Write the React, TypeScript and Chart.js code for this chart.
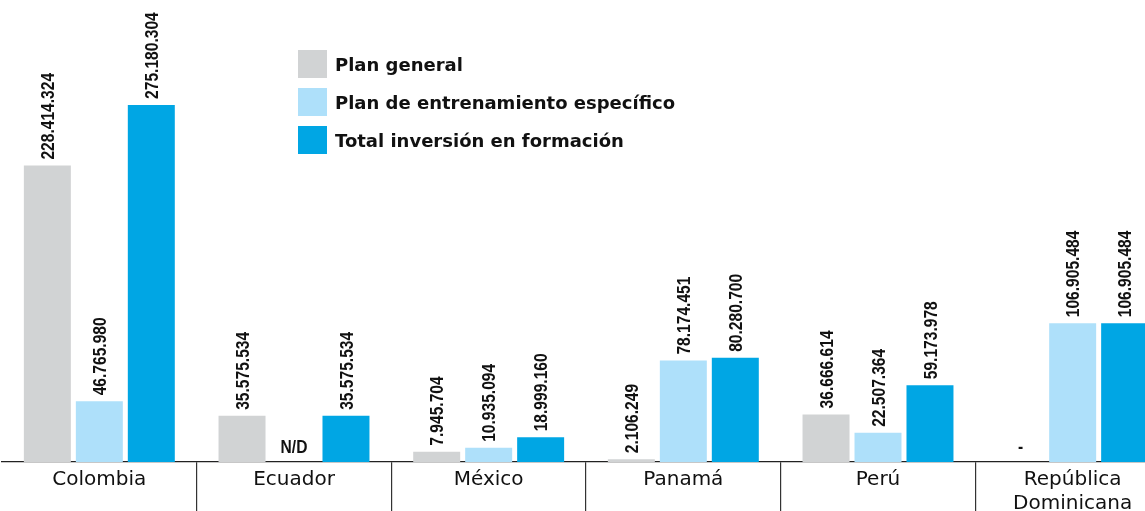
import { useEffect, useRef } from "react";
import { Chart, registerables } from "chart.js";
Chart.register(...registerables);

const categories: (string | string[])[] = ["Colombia", "Ecuador", "México", "Panamá", "Perú", ["República", "Dominicana"]];
const seriesNames = ["Plan general", "Plan de entrenamiento específico", "Total inversión en formación"];
const planGeneral = [228414324, 35575534, 7945704, 2106249, 36666614, null];
const planEspecifico = [46765980, null, 10935094, 78174451, 22507364, 106905484];
const totalInversion = [275180304, 35575534, 18999160, 80280700, 59173978, 106905484];
const missingGeneral = ["", "", "", "", "", "-"];
const missingEspecifico = ["", "N/D", "", "", "", ""];
const missingTotal = ["", "", "", "", "", ""];
const colors = ["#d1d3d4", "#aee0fa", "#00a6e4"];

const missingLabels = [missingGeneral, missingEspecifico, missingTotal];
const LABEL_FONT = 'bold 19px "Liberation Sans", Arial, sans-serif';
const CONDENSE = 0.82;

const fmt = (v: number) => String(v).replace(/\B(?=(\d{3})+(?!\d))/g, ".");

const valueLabels = {
  id: "valueLabels",
  afterDatasetsDraw(chart: any) {
    const ctx = chart.ctx;
    const base = chart.scales.y.getPixelForValue(0);
    chart.data.datasets.forEach((ds: any, di: number) => {
      const meta = chart.getDatasetMeta(di);
      meta.data.forEach((el: any, i: number) => {
        const v = ds.data[i];
        ctx.save();
        ctx.fillStyle = "#111";
        ctx.font = LABEL_FONT;
        if (v == null) {
          const txt = missingLabels[di][i];
          ctx.translate(el.x, base - 9);
          ctx.scale(CONDENSE, 1);
          ctx.textAlign = "center";
          ctx.textBaseline = "alphabetic";
          ctx.fillText(txt, 0, 0);
        } else {
          ctx.translate(el.x, el.y - 6);
          ctx.rotate(-Math.PI / 2);
          ctx.scale(CONDENSE, 1);
          ctx.textAlign = "left";
          ctx.textBaseline = "alphabetic";
          ctx.fillText(fmt(v), 0, 6.8);
        }
        ctx.restore();
      });
    });
  },
};

export default function App() {
  const ref = useRef<HTMLCanvasElement>(null);
  useEffect(() => {
    if (!ref.current) return;
    const chart = new Chart(ref.current, {
      type: "bar",
      data: {
        labels: categories,
        datasets: [planGeneral, planEspecifico, totalInversion].map((d, k) => ({
          label: seriesNames[k],
          data: d,
          backgroundColor: colors[k],
          borderWidth: 0,
          barPercentage: 0.904,
          categoryPercentage: 0.801,
        })),
      },
      options: {
        animation: false,
        responsive: false,
        devicePixelRatio: 1,
        layout: { padding: { left: 2, right: 0, top: 0, bottom: 0 } },
        plugins: { legend: { display: false }, tooltip: { enabled: false } },
        scales: {
          x: {
            z: 1,
            afterFit: (s: any) => {
              s.height = 54;
            },
            grid: {
              display: true,
              drawOnChartArea: false,
              drawTicks: true,
              tickLength: 60,
              offset: true,
              lineWidth: 1.2,
              color: (c: any) => (c.index === 0 ? "rgba(0,0,0,0)" : "#333"),
            },
            border: { display: true, color: "#222", width: 1.3 },
            ticks: {
              padding: -54,
              autoSkip: false,
              maxRotation: 0,
              color: "#111",
              font: { family: "DejaVu Sans", size: 20, lineHeight: 1.2 },
            },
          },
          y: { display: false, min: 0, max: 356000000 },
        },
      },
      plugins: [valueLabels],
    });
    return () => chart.destroy();
  }, []);

  return (
    <div style={{ position: "absolute", left: 0, top: 0, width: 1145, height: 511, overflow: "hidden", background: "#fff" }}>
      <canvas ref={ref} width={1170} height={516} style={{ position: "absolute", left: 0, top: 0, width: 1170, height: 516 }} />
      <div style={{ position: "absolute", left: 298, top: 50 }}>
        {seriesNames.map((n, k) => (
          <div key={n} style={{ display: "flex", alignItems: "center", height: 28, marginBottom: 10 }}>
            <div style={{ width: 29, height: 28, background: colors[k] }} />
            <span style={{ marginLeft: 8, font: 'bold 18px "DejaVu Sans"', color: "#111", whiteSpace: "nowrap" }}>{n}</span>
          </div>
        ))}
      </div>
    </div>
  );
}
